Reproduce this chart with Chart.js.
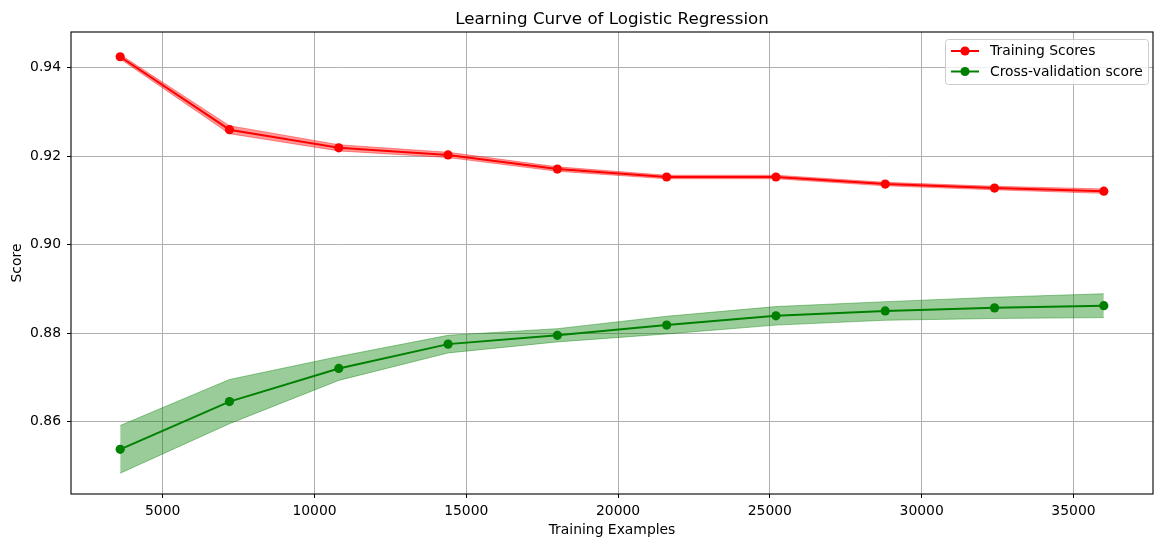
<!DOCTYPE html>
<html>
<head>
<meta charset="utf-8">
<script src="https://cdn.jsdelivr.net/npm/chart.js@4.4.1/dist/chart.umd.min.js"></script>
<style>
  html, body { margin: 0; padding: 0; background: #ffffff; }
  #wrap { width: 1165px; height: 547px; position: relative; }
</style>
</head>
<body>
<div id="wrap"><canvas id="c"></canvas></div>
<script>
// ---- data ----
const trainSizes = [3600, 7200, 10800, 14400, 18000, 21600, 25200, 28800, 32400, 36000];
const trainMean  = [0.9425, 0.9260, 0.9219, 0.9203, 0.9171, 0.9153, 0.9153, 0.9137, 0.9128, 0.9121];
const trainStd   = [0.0005, 0.0009, 0.0007, 0.0006, 0.0005, 0.0004, 0.0004, 0.0004, 0.0004, 0.0005];
const cvMean     = [0.8537, 0.8645, 0.8720, 0.8775, 0.8795, 0.8818, 0.8839, 0.8850, 0.8857, 0.8862];
const cvStd      = [0.0054, 0.0050, 0.0027, 0.0020, 0.0015, 0.0020, 0.0021, 0.0021, 0.0024, 0.0027];
const xTicks     = [5000, 10000, 15000, 20000, 25000, 30000, 35000];
const yTicks     = [0.86, 0.88, 0.90, 0.92, 0.94];
const chartTitle = 'Learning Curve of Logistic Regression';
const xLabel     = 'Training Examples';
const yLabel     = 'Score';
const seriesNames = ['Training Scores', 'Cross-validation score'];

const pts = (ys) => trainSizes.map((x, i) => ({ x: x, y: ys[i] }));
const FONT = "'DejaVu Sans', sans-serif";

const framePlugin = {
  id: 'frame',
  afterDraw(chart) {
    const { ctx, chartArea: a } = chart;
    ctx.save();
    // spines
    ctx.strokeStyle = '#000000';
    ctx.lineWidth = 1.1;
    ctx.strokeRect(a.left, a.top, a.right - a.left, a.bottom - a.top);
    // title
    ctx.fillStyle = '#000000';
    ctx.font = "16.7px " + FONT;
    ctx.textAlign = 'center';
    ctx.textBaseline = 'alphabetic';
    ctx.fillText(chartTitle, (a.left + a.right) / 2, 23.5);
    // legend
    const bx = 945.5, by = 39.5, bw = 203, bh = 45;
    ctx.beginPath();
    if (ctx.roundRect) ctx.roundRect(bx, by, bw, bh, 3); else ctx.rect(bx, by, bw, bh);
    ctx.fillStyle = 'rgba(255,255,255,0.8)';
    ctx.fill();
    ctx.strokeStyle = '#cccccc';
    ctx.lineWidth = 1;
    ctx.stroke();
    const cols = ['#ff0000', '#008000'];
    const rowsY = [51, 71.5];
    ctx.font = "13.9px " + FONT;
    ctx.textAlign = 'left';
    ctx.textBaseline = 'middle';
    for (let i = 0; i < 2; i++) {
      ctx.strokeStyle = cols[i];
      ctx.lineWidth = 2;
      ctx.beginPath();
      ctx.moveTo(951, rowsY[i]);
      ctx.lineTo(979, rowsY[i]);
      ctx.stroke();
      ctx.fillStyle = cols[i];
      ctx.beginPath();
      ctx.arc(965, rowsY[i], 4.6, 0, Math.PI * 2);
      ctx.fill();
      ctx.fillStyle = '#000000';
      ctx.fillText(seriesNames[i], 990, rowsY[i] + 0.5);
    }
    ctx.restore();
  }
};

new Chart(document.getElementById('c'), {
  type: 'line',
  data: {
    datasets: [
      { label: seriesNames[0], data: pts(trainMean), borderColor: '#ff0000', backgroundColor: '#ff0000',
        borderWidth: 2, pointRadius: 4.6, pointBorderWidth: 0, pointBackgroundColor: '#ff0000', fill: false, tension: 0 },
      { label: seriesNames[1], data: pts(cvMean), borderColor: '#008000', backgroundColor: '#008000',
        borderWidth: 2, pointRadius: 4.6, pointBorderWidth: 0, pointBackgroundColor: '#008000', fill: false, tension: 0 },
      { label: 'train_upper', data: pts(trainMean.map((m, i) => m + trainStd[i])), borderColor: 'rgba(255,0,0,0.4)',
        borderWidth: 1, pointRadius: 0, fill: false, tension: 0 },
      { label: 'train_lower', data: pts(trainMean.map((m, i) => m - trainStd[i])), borderColor: 'rgba(255,0,0,0.4)',
        backgroundColor: 'rgba(255,0,0,0.4)', borderWidth: 1, pointRadius: 0, fill: '-1', tension: 0 },
      { label: 'cv_upper', data: pts(cvMean.map((m, i) => m + cvStd[i])), borderColor: 'rgba(0,128,0,0.4)',
        borderWidth: 1, pointRadius: 0, fill: false, tension: 0 },
      { label: 'cv_lower', data: pts(cvMean.map((m, i) => m - cvStd[i])), borderColor: 'rgba(0,128,0,0.4)',
        backgroundColor: 'rgba(0,128,0,0.4)', borderWidth: 1, pointRadius: 0, fill: '-1', tension: 0 }
    ]
  },
  options: {
    responsive: true,
    maintainAspectRatio: false,
    animation: false,
    events: [],
    layout: { padding: { top: 32, right: 12, left: 0, bottom: 0 } },
    plugins: {
      legend: { display: false },
      title: { display: false },
      tooltip: { enabled: false }
    },
    scales: {
      x: {
        type: 'linear',
        min: 1980, max: 37620,
        afterBuildTicks: (s) => { s.ticks = xTicks.map(v => ({ value: v })); },
        afterFit: (s) => { s.height = 53; },
        grid: { color: '#b0b0b0', lineWidth: 1, tickColor: '#000000', tickLength: 4, drawTicks: true },
        border: { display: false },
        ticks: { color: '#000000', font: { family: FONT, size: 13.9 }, padding: 5, maxRotation: 0, autoSkip: false,
                 callback: (v) => String(v) },
        title: { display: true, text: xLabel, color: '#000000', font: { family: FONT, size: 13.9 }, padding: { top: 0, bottom: 8.5 } }
      },
      y: {
        type: 'linear',
        min: 0.8436, max: 0.9481,
        afterBuildTicks: (s) => { s.ticks = yTicks.map(v => ({ value: v })); },
        afterFit: (s) => { s.width = 71; },
        grid: { color: '#b0b0b0', lineWidth: 1, tickColor: '#000000', tickLength: 4, drawTicks: true },
        border: { display: false },
        ticks: { color: '#000000', font: { family: FONT, size: 13.9 }, padding: 6, autoSkip: false,
                 callback: (v) => v.toFixed(2) },
        title: { display: true, text: yLabel, color: '#000000', font: { family: FONT, size: 13.9 }, padding: { top: 8.6, bottom: 0 } }
      }
    }
  },
  plugins: [framePlugin]
});
</script>
</body>
</html>
